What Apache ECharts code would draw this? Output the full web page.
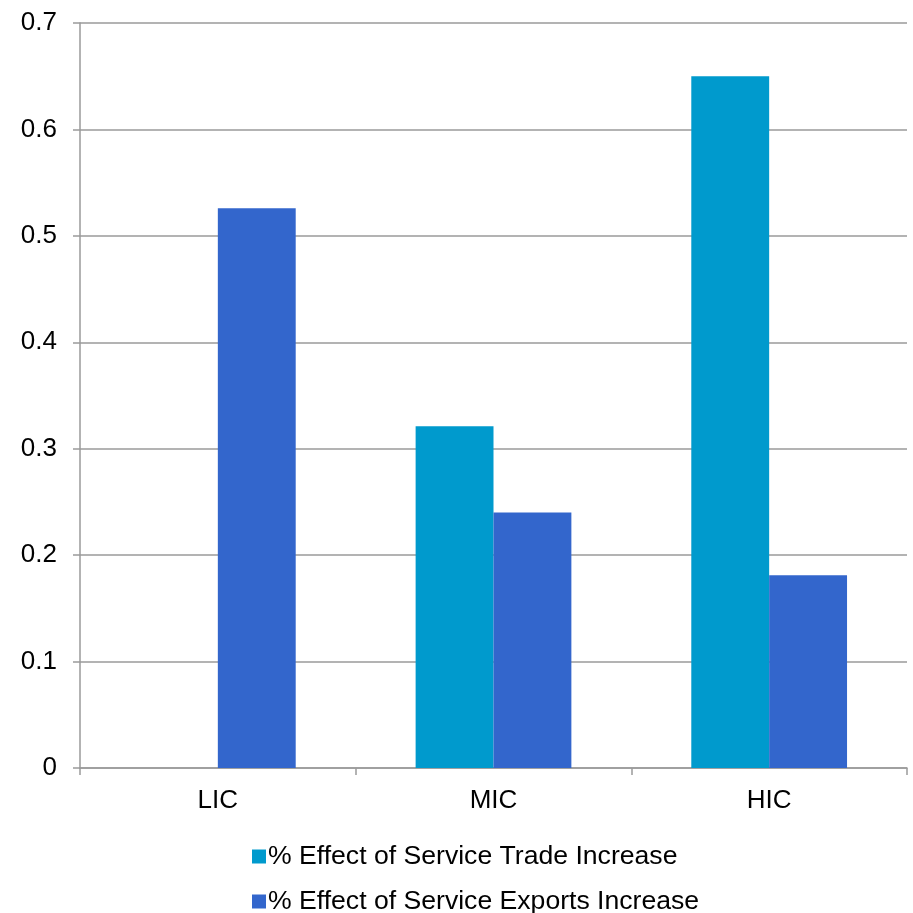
<!DOCTYPE html>
<html>
<head>
<meta charset="utf-8">
<style>
  html, body { margin: 0; padding: 0; background: #ffffff; }
  #chart { width: 913px; height: 913px; }
</style>
<script src="https://cdn.jsdelivr.net/npm/echarts@6/dist/echarts.min.js"></script>
</head>
<body>
<div id="chart"></div>
<script>
// Income groups on the x axis
const categories = ['LIC', 'MIC', 'HIC'];
// Series names shown in the legend
const seriesNames = ['% Effect of Service Trade Increase', '% Effect of Service Exports Increase'];
// Values per income group (null = no bar)
const tradeIncrease = [null, 0.321, 0.650];
const exportsIncrease = [0.526, 0.240, 0.181];
// Y axis range and step
const yMin = 0, yMax = 0.7, yStep = 0.1;

const chart = echarts.init(document.getElementById('chart'), null, { renderer: 'canvas' });
const font = '"Liberation Sans", Arial, sans-serif';
const axisGray = '#9a9a9a';
const fontSize = 26;

// One legend block per row, stacked vertically
const legendRow = (name, top) => ({
  orient: 'vertical',
  left: 247,
  top: top,
  itemWidth: 14,
  itemHeight: 14,
  icon: 'rect',
  textStyle: { fontFamily: font, fontSize: 26.6, color: '#000000', padding: [0, 0, 0, -3] },
  data: [name]
});

chart.setOption({
  animation: false,
  backgroundColor: '#ffffff',
  grid: { left: 80, right: 6, top: 23, bottom: 145, containLabel: false },
  legend: [
    legendRow(seriesNames[0], 838),
    legendRow(seriesNames[1], 883)
  ],
  xAxis: {
    type: 'category',
    data: categories,
    axisLine: { lineStyle: { color: axisGray, width: 1.5 } },
    axisTick: { show: true, length: 7, lineStyle: { color: axisGray, width: 1.5 } },
    axisLabel: { fontFamily: font, fontSize: fontSize, color: '#000000', margin: 20 }
  },
  yAxis: {
    type: 'value',
    min: yMin,
    max: yMax,
    interval: yStep,
    axisLine: { show: true, lineStyle: { color: axisGray, width: 1.5 } },
    axisTick: { show: true, length: 7, lineStyle: { color: axisGray, width: 1.5 } },
    splitLine: { show: true, lineStyle: { color: axisGray, width: 1.5 } },
    axisLabel: {
      fontFamily: font, fontSize: fontSize, color: '#000000', margin: 23,
      formatter: v => (Math.round(v * 10) / 10).toString()
    }
  },
  series: [
    {
      name: seriesNames[0],
      type: 'bar',
      data: tradeIncrease,
      barGap: '0%',
      barCategoryGap: '43.5%',
      itemStyle: { color: '#009ACD' }
    },
    {
      name: seriesNames[1],
      type: 'bar',
      data: exportsIncrease,
      barGap: '0%',
      barCategoryGap: '43.5%',
      itemStyle: { color: '#3366CC' }
    }
  ]
});
</script>
</body>
</html>
